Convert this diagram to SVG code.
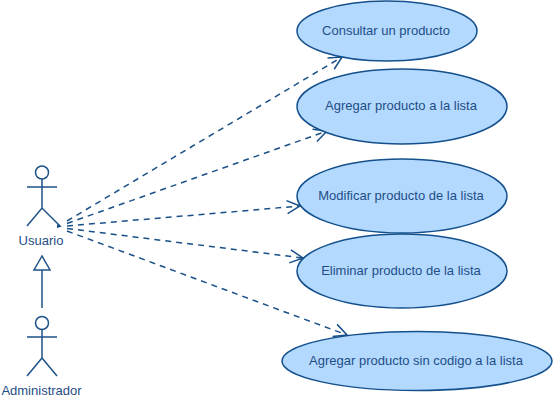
<svg xmlns="http://www.w3.org/2000/svg" width="553" height="400" viewBox="0 0 553 400">
<style>
text{font-family:"Liberation Sans",Arial,sans-serif;font-size:13px;fill:#1f4e86;text-anchor:middle}
.uc{fill:#b3d9ff;stroke:#14508c;stroke-width:1.5}
.a{fill:none;stroke:#1f5288;stroke-width:1.5}
.dep{fill:none;stroke:#1a5088;stroke-width:1.5;stroke-dasharray:6 5;marker-end:url(#open)}
</style>
<defs>
<marker id="open" markerUnits="userSpaceOnUse" markerWidth="20" markerHeight="20" refX="16" refY="10" orient="auto">
<path d="M3 3.500L16 10L3 16.500" fill="none" stroke="#1a5088" stroke-width="1.500"/>
</marker>
</defs>
<rect width="553" height="400" fill="#fff"/>
<g id="connectors">
<path class="dep" d="M67 221L342 57"/>
<path class="dep" d="M67 223.500L327 131"/>
<path class="dep" d="M67 226L300 206"/>
<path class="dep" d="M67 228.500L303 258"/>
<path class="dep" d="M67 231L347 335"/>
<path d="M57 224L62 226.500L57 228Z" fill="#1a5088"/>
<path class="a" d="M42 308V270"/>
<path class="a" d="M42 256L34 270H50Z"/>
</g>
<g id="uc1"><ellipse class="uc" cx="387" cy="31" rx="90" ry="30"/><text x="386" y="35">Consultar un producto</text></g>
<g id="uc2"><ellipse class="uc" cx="402" cy="106.500" rx="105" ry="37.500"/><text x="401" y="110">Agregar producto a la lista</text></g>
<g id="uc3"><ellipse class="uc" cx="402" cy="196" rx="105" ry="37"/><text x="401" y="200">Modificar producto de la lista</text></g>
<g id="uc4"><ellipse class="uc" cx="402" cy="271" rx="105" ry="37"/><text x="401" y="275">Eliminar producto de la lista</text></g>
<g id="uc5"><ellipse class="uc" cx="417" cy="361" rx="135" ry="29.500"/><text x="416" y="365">Agregar producto sin codigo a la lista</text></g>
<g id="usuario"><circle class="a" cx="42" cy="172.500" r="6.500"/><path class="a" d="M42 179V208M27 187H57M27 226L42 208L60 226"/><text x="41" y="245">Usuario</text></g>
<g id="administrador"><circle class="a" cx="42" cy="323" r="6.500"/><path class="a" d="M42 329.500V358M27 337H57M27 376L42 358L57 376"/><text x="41.500" y="395">Administrador</text></g>
</svg>
